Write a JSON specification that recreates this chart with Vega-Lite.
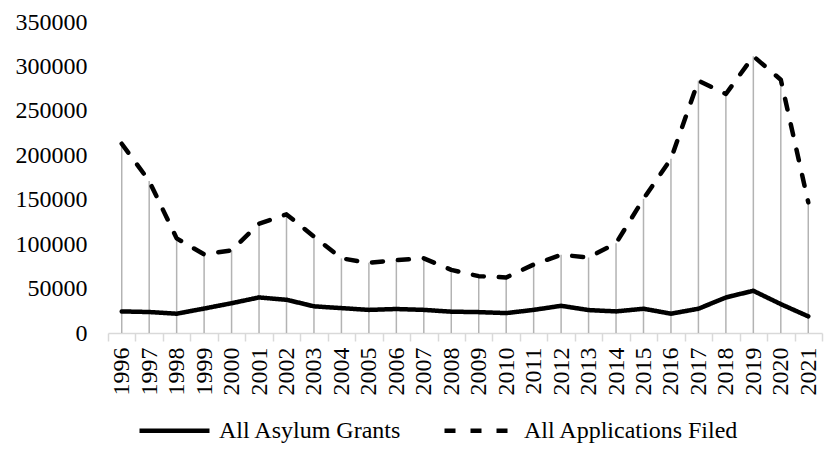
{
  "$schema": "https://vega.github.io/schema/vega-lite/v6.json",
  "width": 714,
  "height": 311,
  "autosize": {"type": "none"},
  "padding": {"left": 108, "top": 22, "right": 2, "bottom": 116},
  "config": {"font": "Liberation Serif", "view": {"stroke": null}},
  "data": {
    "values": [
      {"year": "1996", "grants": 24300, "applications": 213000},
      {"year": "1997", "grants": 23600, "applications": 171000},
      {"year": "1998", "grants": 21700, "applications": 106500},
      {"year": "1999", "grants": 27500, "applications": 88500},
      {"year": "2000", "grants": 33500, "applications": 93000},
      {"year": "2001", "grants": 40000, "applications": 123000},
      {"year": "2002", "grants": 37400, "applications": 133500},
      {"year": "2003", "grants": 30000, "applications": 108500},
      {"year": "2004", "grants": 28000, "applications": 84000},
      {"year": "2005", "grants": 26000, "applications": 79000},
      {"year": "2006", "grants": 27000, "applications": 82000},
      {"year": "2007", "grants": 26000, "applications": 84000},
      {"year": "2008", "grants": 24000, "applications": 71000},
      {"year": "2009", "grants": 23500, "applications": 64000},
      {"year": "2010", "grants": 22400, "applications": 62500},
      {"year": "2011", "grants": 26000, "applications": 77000},
      {"year": "2012", "grants": 30600, "applications": 88000},
      {"year": "2013", "grants": 25800, "applications": 85000},
      {"year": "2014", "grants": 24300, "applications": 101000},
      {"year": "2015", "grants": 27300, "applications": 151000},
      {"year": "2016", "grants": 21700, "applications": 196000},
      {"year": "2017", "grants": 27300, "applications": 284000},
      {"year": "2018", "grants": 40000, "applications": 269000},
      {"year": "2019", "grants": 47500, "applications": 311500},
      {"year": "2020", "grants": 32500, "applications": 285000},
      {"year": "2021", "grants": 18700, "applications": 147000}
    ]
  },
  "encoding": {
    "x": {
      "field": "year",
      "type": "ordinal",
      "scale": {"paddingInner": 0, "paddingOuter": 0},
      "axis": {
        "title": null,
        "labelAngle": -90,
        "labelFontSize": 24,
        "labelFont": "Liberation Serif",
        "labelColor": "black",
        "domainColor": "#d9d9d9",
        "domainWidth": 1.5,
        "tickColor": "#d9d9d9",
        "tickWidth": 1.5,
        "tickSize": 8,
        "tickBand": "extent",
        "labelPadding": 6
      }
    }
  },
  "layer": [
    {
      "mark": {"type": "rule", "color": "#b3b3b3", "strokeWidth": 1.5},
      "encoding": {
        "y": {
          "field": "applications",
          "type": "quantitative",
          "scale": {"domain": [0, 350000], "nice": false},
          "axis": {
            "title": null,
            "values": [0, 50000, 100000, 150000, 200000, 250000, 300000, 350000],
            "format": "d",
            "labelFontSize": 24,
            "labelFont": "Liberation Serif",
            "labelColor": "black",
            "ticks": false,
            "domain": false,
            "grid": false,
            "labelPadding": 21
          }
        },
        "y2": {"datum": 0}
      }
    },
    {
      "transform": [{"fold": ["grants", "applications"], "as": ["series", "value"]}],
      "mark": {"type": "line", "color": "black", "strokeWidth": 4.5, "strokeCap": "round", "strokeJoin": "round"},
      "encoding": {
        "y": {"field": "value", "type": "quantitative", "title": null},
        "strokeDash": {
          "field": "series",
          "type": "nominal",
          "scale": {"domain": ["grants", "applications"], "range": [[1, 0], [11, 15]]},
          "legend": {
            "title": null,
            "orient": "none",
            "legendX": 29,
            "legendY": 371,
            "direction": "horizontal",
            "columns": 2,
            "symbolType": "stroke",
            "symbolSize": 4900,
            "symbolStrokeWidth": 4.5,
            "symbolStrokeColor": "black",
            "labelFontSize": 24,
            "labelFont": "Liberation Serif",
            "labelColor": "black",
            "labelLimit": 0,
            "labelOffset": 7,
            "columnPadding": 33,
            "labelExpr": "datum.value == 'grants' ? 'All Asylum Grants' : 'All Applications Filed'"
          }
        }
      }
    }
  ]
}
